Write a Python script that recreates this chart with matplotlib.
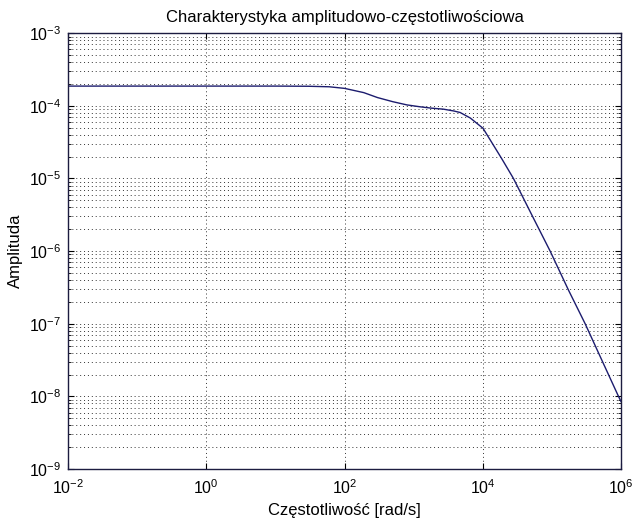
import matplotlib
matplotlib.use('Agg')
import matplotlib.pyplot as plt
import matplotlib.ticker as mticker
import numpy as np

plt.rcParams['font.family'] = 'Liberation Sans'
plt.rcParams['mathtext.fontset'] = 'custom'
plt.rcParams['mathtext.rm'] = 'Liberation Sans'
plt.rcParams['font.size'] = 11

# punkty (czestotliwosc [rad/s], amplituda)
omega = [1e-2, 1e0, 1e1, 3e1, 6e1, 1.0e2, 1.9e2, 3.0e2, 5.0e2, 8.0e2,
         1.24e3, 1.8e3, 2.7e3, 3.8e3, 4.7e3, 6.6e3, 8.5e3, 1.01e4, 1.28e4,
         1.89e4, 2.78e4, 5.14e4, 9.44e4, 1.74e5, 3.03e5, 5.5e5, 9.2e5, 1e6]
amplitude = [1.87e-4, 1.87e-4, 1.87e-4, 1.86e-4, 1.83e-4, 1.74e-4, 1.52e-4,
             1.30e-4, 1.14e-4, 1.03e-4, 9.7e-5, 9.3e-5, 9.0e-5, 8.5e-5,
             8.1e-5, 6.8e-5, 5.6e-5, 4.9e-5, 3.4e-5, 1.86e-5, 1.0e-5,
             3.13e-6, 1.0e-6, 2.9e-7, 1.0e-7, 2.9e-8, 1.0e-8, 8.5e-9]

x_ticks = [1e-2, 1e0, 1e2, 1e4, 1e6]

fig = plt.figure(figsize=(6.34, 5.27), dpi=100)
ax = fig.add_axes([0.1073, 0.110, 0.8722, 0.827])

ax.loglog(omega, amplitude, color='#1c1c6e', linewidth=1.0)

ax.set_xlim(1e-2, 1e6)
ax.set_ylim(1e-9, 1e-3)
ax.xaxis.set_major_locator(mticker.FixedLocator(x_ticks))
ax.xaxis.set_minor_locator(mticker.NullLocator())
ax.yaxis.set_major_locator(mticker.LogLocator(base=10, numticks=10))
ax.yaxis.set_minor_locator(mticker.LogLocator(base=10, subs=np.arange(2, 10), numticks=20))
ax.yaxis.set_minor_formatter(mticker.NullFormatter())

ax.tick_params(which='both', direction='in', top=True, right=True, labelsize=11.5)
ax.tick_params(axis='x', pad=7)
ax.tick_params(axis='y', pad=5)
ax.tick_params(which='major', length=4)
ax.tick_params(which='minor', length=2.5)

dots = (0, (1, 3))
ax.grid(True, which='major', axis='both', linestyle=dots, color='0.2', linewidth=0.7)
ax.grid(True, which='minor', axis='y', linestyle=dots, color='0.2', linewidth=0.7)

for s in ax.spines.values():
    s.set_color('#1c1c40')
    s.set_linewidth(1.0)

ax.set_title('Charakterystyka amplitudowo-częstotliwościowa', fontsize=12, pad=8)
ax.set_xlabel('Częstotliwość [rad/s]', fontsize=12, labelpad=4)
ax.set_ylabel('Amplituda', fontsize=12, labelpad=4)

plt.savefig('out.png', dpi=100)
